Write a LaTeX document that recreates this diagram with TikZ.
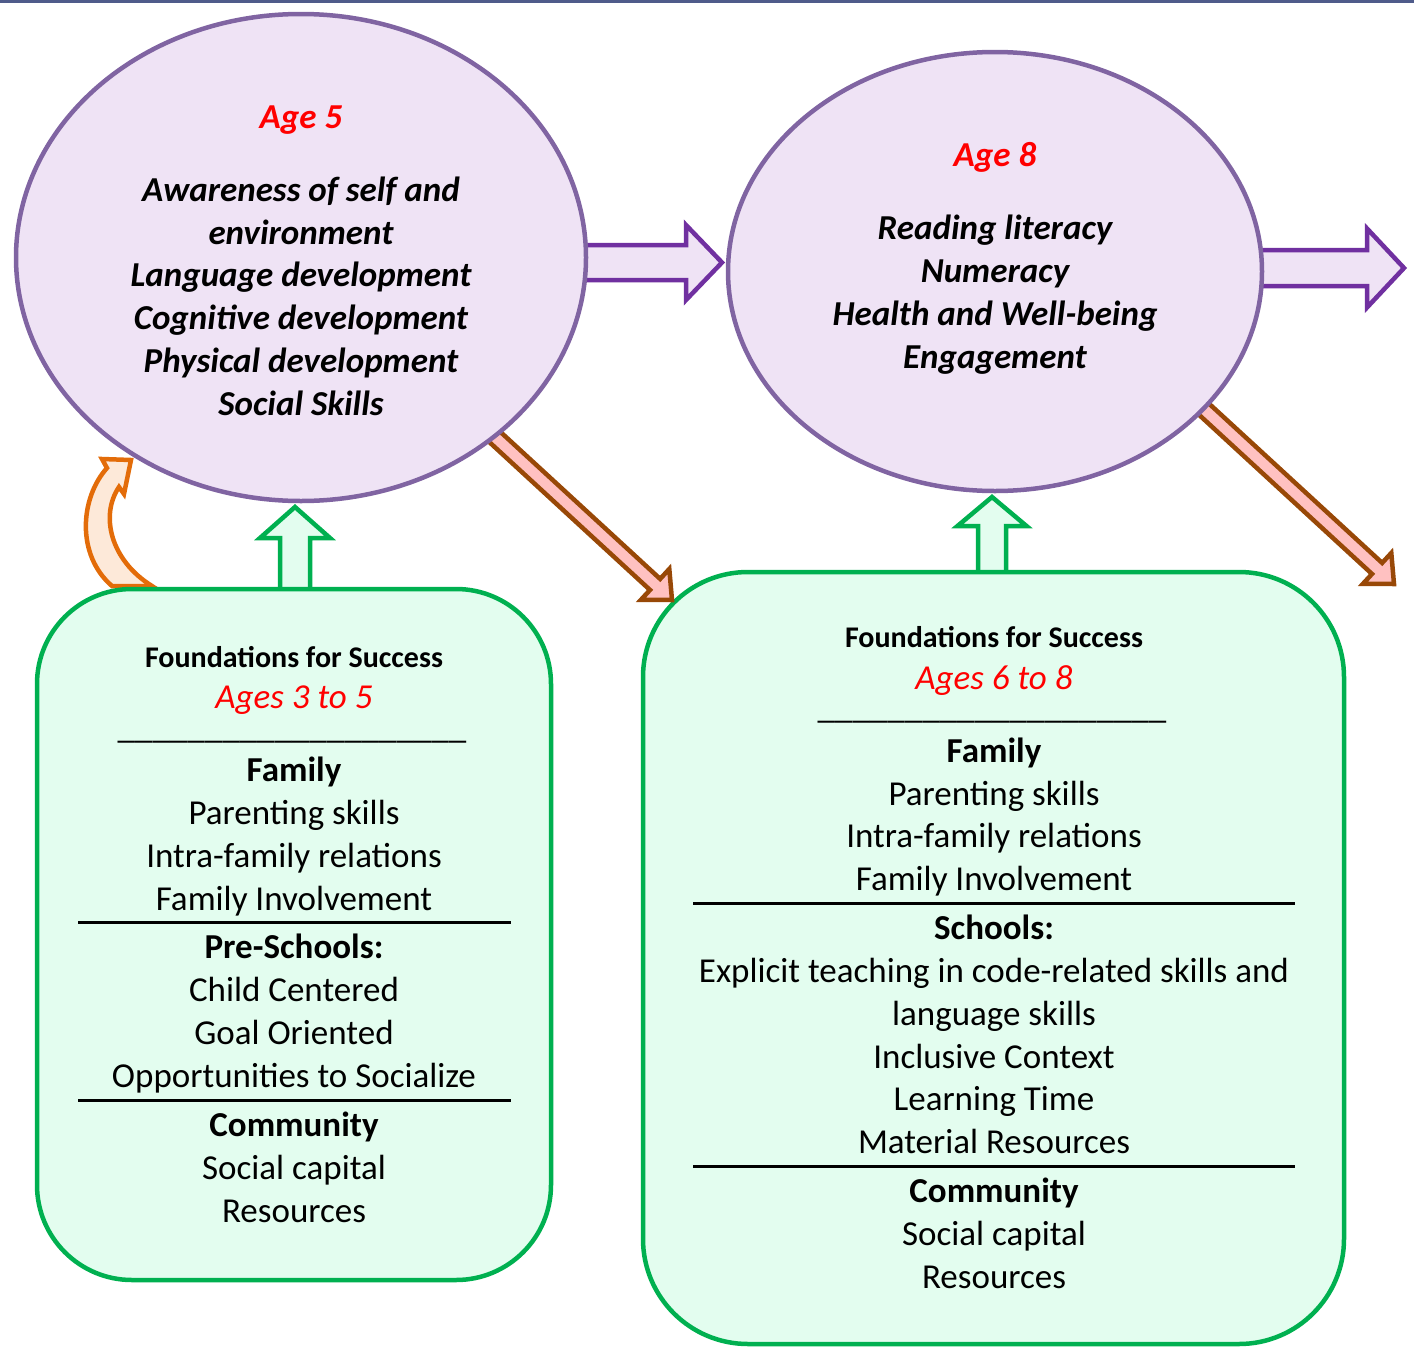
\documentclass[tikz,border=0pt]{standalone}
\usepackage{fontspec}
\setmainfont{Carlito}
\usetikzlibrary{calc,shapes.geometric}
\definecolor{elfill}{HTML}{EFE3F5}
\definecolor{elline}{HTML}{8064A2}
\definecolor{purar}{HTML}{7030A0}
\definecolor{bxfill}{HTML}{E3FDEF}
\definecolor{bxline}{HTML}{00B050}
\definecolor{brline}{HTML}{984807}
\definecolor{brfill}{HTML}{FFC1C1}
\definecolor{orline}{HTML}{E36C09}
\definecolor{orfill}{HTML}{FDE9D9}
\definecolor{topline}{HTML}{4F5B8A}
\newcommand\blkarrow[6]{%
  \path ($(#2)!#4!(#1)$) coordinate (bah);
  \draw[#6] ($(#1)!#3!90:(#2)$) -- ($(bah)!#3!-90:(#1)$) -- ($(bah)!#5!-90:(#1)$) -- (#2)
    -- ($(bah)!#5!90:(#1)$) -- ($(bah)!#3!90:(#1)$) -- ($(#1)!#3!-90:(#2)$) -- cycle;
}
\tikzset{
  bubble/.style={ellipse, draw=elline, fill=elfill, line width=4.5pt, inner sep=0pt},
  box/.style={rectangle, draw=bxline, fill=bxfill, line width=4.5pt, inner sep=0pt},
  purarrow/.style={draw=purar, fill=elfill, line width=4.5pt},
  grnarrow/.style={draw=bxline, fill=bxfill, line width=4.5pt},
  brnarrow/.style={draw=brline, fill=brfill, line width=4.5pt},
  body/.style={anchor=base, inner sep=0pt, font=\fontsize{35}{43}\selectfont},
  bodyb/.style={body, font=\fontsize{35}{43}\selectfont\bfseries},
  hd/.style={anchor=base, inner sep=0pt, font=\fontsize{30}{36}\selectfont\bfseries},
  agered/.style={body, text=red, font=\fontsize{35}{43}\selectfont\itshape},
  elt/.style={anchor=base, inner sep=0pt, font=\fontsize{35}{43}\selectfont\bfseries\itshape},
  eage/.style={elt, text=red},
  rule/.style={line width=3pt, black},
}
\begin{document}
\begin{tikzpicture}[x=1pt,y=-1pt]
\useasboundingbox (0,0) rectangle (1414,1357);
\fill[topline] (0,0) rectangle (1414,2.5);

% orange curved arrow
\draw[draw=orline, fill=orfill, line width=4.5pt, line join=miter]
  (112,586) .. controls (76,555) and (80,498) .. (107,468) -- (102,459) -- (131,460) -- (124,494)
  -- (119,487) .. controls (100,515) and (110,560) .. (152,586) -- cycle;

% green up arrows
\coordinate (g1s) at (295,600);
\coordinate (g1t) at (295,507);
\blkarrow{g1s}{g1t}{15pt}{31pt}{35pt}{grnarrow}
\coordinate (g2s) at (992,585);
\coordinate (g2t) at (992,497);
\blkarrow{g2s}{g2t}{14pt}{29pt}{34.5pt}{grnarrow}

% boxes
\node[box, rounded corners=95pt, minimum width=514pt, minimum height=691pt] (b1) at (294,934.5) {};
\node[box, rounded corners=105pt, minimum width=701pt, minimum height=772pt] (b2) at (993.5,958) {};

% purple arrows
\coordinate (p1s) at (560,262.5);
\coordinate (p1t) at (722,262.5);
\blkarrow{p1s}{p1t}{17.5pt}{36pt}{37.5pt}{purarrow}
\coordinate (p2s) at (1240,268);
\coordinate (p2t) at (1404,268);
\blkarrow{p2s}{p2t}{18pt}{37pt}{39.5pt}{purarrow}

% brown arrows
\coordinate (r1s) at (467.6,411.9);
\coordinate (r1t) at (672,600);
\blkarrow{r1s}{r1t}{7.5pt}{23pt}{21pt}{brnarrow}
\coordinate (r2s) at (1176.6,384);
\coordinate (r2t) at (1394,584);
\blkarrow{r2s}{r2t}{7.5pt}{23pt}{21pt}{brnarrow}

% ellipses
\node[bubble, minimum width=570pt, minimum height=487pt] (e1) at (301,257.5) {};
\node[bubble, minimum width=534pt, minimum height=439pt] (e2) at (995,271.5) {};

% ellipse 1 text
\node[eage] (e1a) at (301,128) {Age 5};
\node[elt] (e1b) at (301,201) {Awareness of self and};
\node[elt] (e1c) at (301,244) {environment};
\node[elt] (e1d) at (301,286) {Language development};
\node[elt] (e1e) at (301,329) {Cognitive development};
\node[elt] (e1f) at (301,372) {Physical development};
\node[elt] (e1g) at (301,415) {Social Skills};

% ellipse 2 text
\node[eage] (e2a) at (995,166) {Age 8};
\node[elt] (e2b) at (995,239) {Reading literacy};
\node[elt] (e2c) at (995,282) {Numeracy};
\node[elt] (e2d) at (995,325) {Health and Well-being};
\node[elt] (e2e) at (995,368) {Engagement};

% box 1 text
\node[hd] (l1) at (294,667) {Foundations for Success};
\node[agered] (l2) at (294,708) {Ages 3 to 5};
\node[body] (l3) at (292,738) {\_\_\_\_\_\_\_\_\_\_\_\_\_\_\_\_\_\_\_\_};
\node[bodyb] (l4) at (294,781) {Family};
\node[body] (l5) at (294,824) {Parenting skills};
\node[body] (l6) at (294,867) {Intra-family relations};
\node[body] (l7) at (294,910) {Family Involvement};
\draw[rule] (78,922) -- (511,922);
\node[bodyb] (l8) at (294,958) {Pre-Schools:};
\node[body] (l9) at (294,1001) {Child Centered};
\node[body] (l10) at (294,1044) {Goal Oriented};
\node[body] (l11) at (294,1087) {Opportunities to Socialize};
\draw[rule] (78,1100) -- (511,1100);
\node[bodyb] (l12) at (294,1136) {Community};
\node[body] (l13) at (294,1179) {Social capital};
\node[body] (l14) at (294,1222) {Resources};

% box 2 text
\node[hd] (r1) at (994,647) {Foundations for Success};
\node[agered] (r2) at (994,689) {Ages 6 to 8};
\node[body] (r3) at (992,718) {\_\_\_\_\_\_\_\_\_\_\_\_\_\_\_\_\_\_\_\_};
\node[bodyb] (r4) at (994,762) {Family};
\node[body] (r5) at (994,805) {Parenting skills};
\node[body] (r6) at (994,847) {Intra-family relations};
\node[body] (r7) at (994,890) {Family Involvement};
\draw[rule] (693,903) -- (1295,903);
\node[bodyb] (r8) at (994,939) {Schools:};
\node[body] (r9) at (994,982) {Explicit teaching in code-related skills and};
\node[body] (r10) at (994,1025) {language skills};
\node[body] (r11) at (994,1068) {Inclusive Context};
\node[body] (r12) at (994,1110) {Learning Time};
\node[body] (r13) at (994,1153) {Material Resources};
\draw[rule] (693,1166) -- (1295,1166);
\node[bodyb] (r14) at (994,1202) {Community};
\node[body] (r15) at (994,1245) {Social capital};
\node[body] (r16) at (994,1288) {Resources};
\end{tikzpicture}
\end{document}
